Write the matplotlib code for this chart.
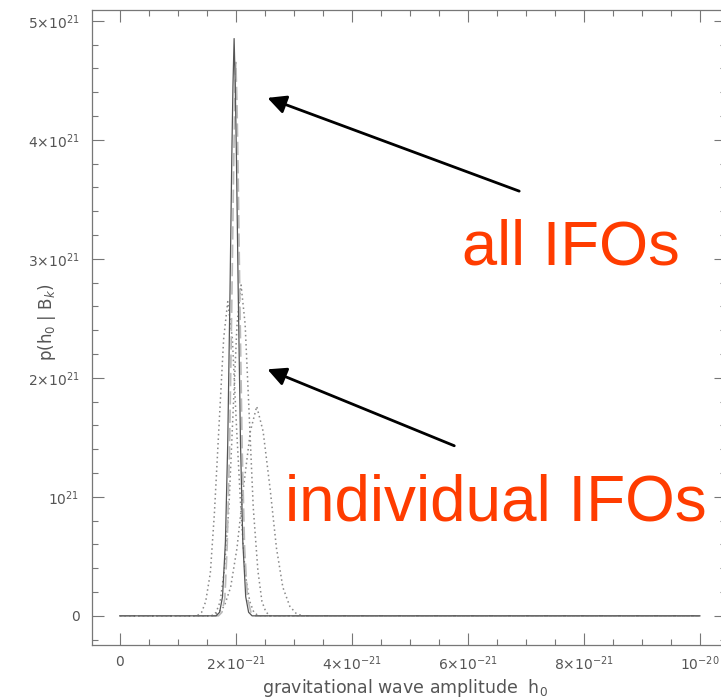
import matplotlib
matplotlib.use('Agg')
import matplotlib.pyplot as plt
from matplotlib.ticker import FixedLocator, MultipleLocator

# h0 in units of 1e-21, p(h0|B) in units of 1e21
# all IFOs combined (dark solid)
h_all = [0, 1.66, 1.72, 1.77, 1.82, 1.86, 1.90, 1.93, 1.95, 1.97, 1.99, 2.01, 2.04,
         2.08, 2.12, 2.17, 2.22, 2.28, 10]
p_all = [0, 0, 0.03, 0.16, 0.62, 1.45, 2.75, 3.85, 4.45, 4.85, 4.45, 3.85, 2.75,
         1.45, 0.62, 0.16, 0.03, 0, 0]

# second (light grey) combined curve, almost on top of the first
h_all2 = [0, 1.70, 1.76, 1.81, 1.85, 1.89, 1.93, 1.96, 1.98, 2.00, 2.02, 2.04, 2.07,
          2.11, 2.15, 2.20, 2.26, 2.32, 10]
p_all2 = [0, 0, 0.03, 0.15, 0.58, 1.38, 2.62, 3.70, 4.30, 4.65, 4.30, 3.70, 2.62,
          1.38, 0.58, 0.15, 0.03, 0, 0]

# individual IFOs (dotted)
h_ifo1 = [0, 1.33, 1.41, 1.48, 1.56, 1.63, 1.71, 1.79, 1.86, 1.94, 2.01, 2.09, 2.16,
          2.24, 2.31, 2.39, 10]
p_ifo1 = [0, 0, 0.03, 0.12, 0.36, 0.86, 1.60, 2.33, 2.64, 2.33, 1.60, 0.86, 0.36,
          0.12, 0.03, 0, 0]

h_ifo2 = [0, 1.59, 1.66, 1.73, 1.80, 1.88, 1.95, 2.02, 2.09, 2.16, 2.23, 2.30, 2.38,
          2.45, 2.52, 2.60, 10]
p_ifo2 = [0, 0, 0.03, 0.12, 0.38, 0.91, 1.69, 2.45, 2.78, 2.45, 1.69, 0.91, 0.38,
          0.12, 0.03, 0, 0]

h_ifo3 = [0, 1.57, 1.68, 1.80, 1.91, 2.02, 2.13, 2.25, 2.36, 2.47, 2.59, 2.70, 2.81,
          2.93, 3.04, 3.15, 10]
p_ifo3 = [0, 0, 0.02, 0.08, 0.24, 0.57, 1.07, 1.55, 1.76, 1.55, 1.07, 0.57, 0.24,
          0.08, 0.02, 0, 0]

xticks = [0, 2, 4, 6, 8, 10]
xlabels = ['0', r'$2{\times}10^{-21}$', r'$4{\times}10^{-21}$', r'$6{\times}10^{-21}$',
           r'$8{\times}10^{-21}$', r'$10^{-20}$']
yticks = [0, 1, 2, 3, 4, 5]
ylabels = ['0', r'$10^{21}$', r'$2{\times}10^{21}$', r'$3{\times}10^{21}$',
           r'$4{\times}10^{21}$', r'$5{\times}10^{21}$']

plt.rcParams['mathtext.fontset'] = 'dejavusans'
grey = '#777777'

fig = plt.figure(figsize=(7.21, 6.98), dpi=100)
ax = fig.add_axes([92 / 721, 53 / 698, 634 / 721, 635 / 698])

ax.plot(h_ifo1, p_ifo1, ls=(0, (1, 2)), color='#888888', lw=1.1)
ax.plot(h_ifo2, p_ifo2, ls=(0, (1, 2)), color='#888888', lw=1.1)
ax.plot(h_ifo3, p_ifo3, ls=(0, (1, 2)), color='#888888', lw=1.1)
ax.plot(h_all2, p_all2, ls=(0, (8, 3)), color='#bbbbbb', lw=1.2)
ax.plot(h_all, p_all, color='#555555', lw=0.9)

ax.set_xlim(-0.48, 10.45)
ax.set_ylim(-0.245, 5.09)

ax.xaxis.set_major_locator(FixedLocator(xticks))
ax.set_xticklabels(xlabels)
ax.xaxis.set_minor_locator(MultipleLocator(0.5))
ax.yaxis.set_major_locator(FixedLocator(yticks))
ax.set_yticklabels(ylabels)
ax.yaxis.set_minor_locator(MultipleLocator(0.2))

ax.tick_params(which='both', direction='in', top=True, right=True, color=grey,
               labelcolor='#555555', labelsize=10)
ax.tick_params(which='major', length=8.5, width=0.8)
ax.tick_params(which='minor', length=4.5, width=0.8)
ax.tick_params(axis='x', pad=7)
ax.tick_params(axis='y', pad=9)
for s in ax.spines.values():
    s.set_color(grey)
    s.set_linewidth(0.9)

fig.text(405 / 721, 1 - 688 / 698, r'gravitational wave amplitude  h$_0$',
         ha='center', va='center', color='#555555', fontsize=12.5)
fig.text(47 / 721, 1 - 322 / 698, r'p(h$_0$ | B$_k$)', rotation=90,
         ha='center', va='center', color='#555555', fontsize=12)

# annotations
red = '#ff3c00'
ax.annotate('', xy=(2.5, 4.36), xytext=(6.93, 3.56),
            arrowprops=dict(arrowstyle='-|>', color='black', lw=2, mutation_scale=28))
ax.annotate('', xy=(2.5, 2.08), xytext=(5.81, 1.42),
            arrowprops=dict(arrowstyle='-|>', color='black', lw=2, mutation_scale=28))
ax.text(5.9, 2.95, 'all IFOs', color=red, fontsize=45.5, family='Liberation Sans',
        ha='left', va='baseline')
ax.text(2.84, 0.80, 'individual IFOs', color=red, fontsize=46, family='Liberation Sans',
        ha='left', va='baseline')

fig.savefig('out.png', dpi=100)
